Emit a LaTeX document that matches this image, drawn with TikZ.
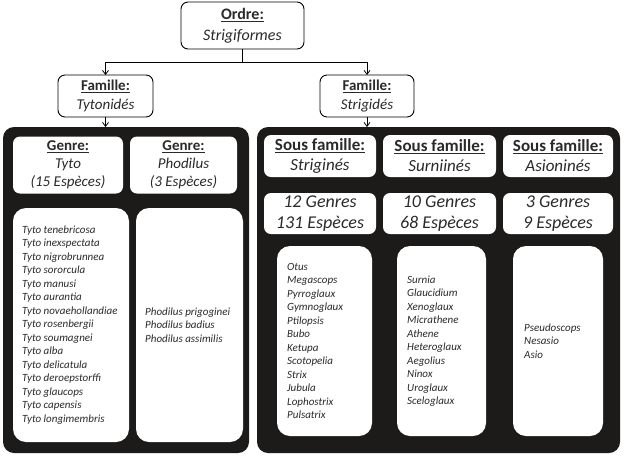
\documentclass[tikz,border=0pt]{standalone}
\usepackage{fontspec}
\setmainfont{Carlito}
\usepackage{tikz}
\usetikzlibrary{positioning, arrows.meta}
\definecolor{panelgray}{HTML}{1C1B19}
\definecolor{inkgray}{HTML}{2A2A2A}

\begin{document}
\begin{tikzpicture}[x=1pt, y=-1pt, text=inkgray,
  box/.style = {draw=black, line width=0.9pt, rounded corners=7pt,
    fill=white, align=center, inner sep=0pt, outer sep=0pt},
  panel/.style = {fill=panelgray, rounded corners=11pt,
    inner sep=0pt, outer sep=0pt},
  card/.style = {fill=white, rounded corners=7pt, align=center,
    inner sep=0pt, outer sep=0pt},
  listbox/.style = {fill=white, rounded corners=13pt,
    inner sep=0pt, outer sep=0pt},
  names/.style = {align=left, inner sep=0pt,
    font=\fontsize{11}{13.5}\selectfont\itshape},
  arr/.style = {-{Straight Barb[length=4pt, width=6pt]}, line width=0.8pt}]

  \useasboundingbox (0,0) rectangle (624,456);

  % top of the tree
  \node[box, minimum width=123pt, minimum height=47pt,
    font=\fontsize{16}{21}\selectfont] (ordre) at (242.5,25.5)
    {\underline{\textbf{Ordre:}}\\ \textit{Strigiformes}};
  \node[box, minimum width=95pt, minimum height=42pt,
    font=\fontsize{15}{19}\selectfont] (tyto) at (105.5,96)
    {\underline{\textbf{Famille:}}\\ \textit{Tytonidés}};
  \node[box, minimum width=94pt, minimum height=42pt,
    font=\fontsize{15}{19}\selectfont] (strig) at (367,96)
    {\underline{\textbf{Famille:}}\\ \textit{Strigidés}};

  % dark panels
  \node[panel, minimum width=246pt, minimum height=326pt] (tytoPanel) at (126,290) {};
  \node[panel, minimum width=363pt, minimum height=326pt] (strigPanel) at (438.5,290) {};

  \coordinate (split) at (242.5,62);
  \draw[line width=0.8pt] (ordre.south) -- (split);
  \draw[arr] (split) -| (tyto.north);
  \draw[arr] (split) -| (strig.north);
  \draw[arr] (tyto.south) -- (tyto.south |- tytoPanel.north);
  \draw[arr] (strig.south) -- (strig.south |- strigPanel.north);

  % Tytonidés
  \node[card, minimum width=110pt, minimum height=57pt,
    font=\fontsize{15}{18}\selectfont] (genreTyto) at (68,165)
    {\underline{\textbf{Genre:}}\\ \textit{Tyto}\\ \textit{(15 Espèces)}};
  \node[card, minimum width=107pt, minimum height=57pt,
    font=\fontsize{15}{18}\selectfont] (genrePhod) at (183.5,165)
    {\underline{\textbf{Genre:}}\\ \textit{Phodilus}\\ \textit{(3 Espèces)}};

  \node[listbox, minimum width=116pt, minimum height=234pt] (tytoList) at (71,325) {};
  \node[names, right=9pt of tytoList.west] (tytoNames)
    {Tyto tenebricosa\\ Tyto inexspectata\\ Tyto nigrobrunnea\\ Tyto sororcula\\
     Tyto manusi\\ Tyto aurantia\\ Tyto novaehollandiae\\ Tyto rosenbergii\\
     Tyto soumagnei\\ Tyto alba\\ Tyto delicatula\\ Tyto deroepstorffi\\
     Tyto glaucops\\ Tyto capensis\\ Tyto longimembris};
  \node[listbox, minimum width=107pt, minimum height=234pt] (phodList) at (189.5,325) {};
  \node[names, right=9pt of phodList.west] (phodNames)
    {Phodilus prigoginei\\ Phodilus badius\\ Phodilus assimilis};

  % Strigidés
  \node[card, minimum width=112pt, minimum height=42pt,
    font=\fontsize{17}{20}\selectfont] (sfStrig) at (320,156)
    {\underline{\textbf{Sous famille:}}\\ \textit{Striginés}};
  \node[card, minimum width=113pt, minimum height=42pt,
    font=\fontsize{17}{20}\selectfont] (sfSurn) at (439.5,156)
    {\underline{\textbf{Sous famille:}}\\ \textit{Surniinés}};
  \node[card, minimum width=110pt, minimum height=42pt,
    font=\fontsize{17}{20}\selectfont] (sfAsio) at (558,156)
    {\underline{\textbf{Sous famille:}}\\ \textit{Asioninés}};

  \node[card, minimum width=112pt, minimum height=41pt,
    font=\fontsize{18}{21.5}\selectfont\itshape] (cntStrig) at (320,213.5)
    {12 Genres\\ 131 Espèces};
  \node[card, minimum width=113pt, minimum height=41pt,
    font=\fontsize{18}{21.5}\selectfont\itshape] (cntSurn) at (439.5,213.5)
    {10 Genres\\ 68 Espèces};
  \node[card, minimum width=110pt, minimum height=41pt,
    font=\fontsize{18}{21.5}\selectfont\itshape] (cntAsio) at (558,213.5)
    {3 Genres\\ 9 Espèces};

  \node[listbox, minimum width=95pt, minimum height=190pt] (strigList) at (324.5,341) {};
  \node[names, right=10pt of strigList.west] (strigNames)
    {Otus\\ Megascops\\ Pyrroglaux\\ Gymnoglaux\\ Ptilopsis\\ Bubo\\ Ketupa\\
     Scotopelia\\ Strix\\ Jubula\\ Lophostrix\\ Pulsatrix};
  \node[listbox, minimum width=89pt, minimum height=190pt] (surnList) at (441.5,341) {};
  \node[names, right=10pt of surnList.west] (surnNames)
    {Surnia\\ Glaucidium\\ Xenoglaux\\ Micrathene\\ Athene\\ Heteroglaux\\
     Aegolius\\ Ninox\\ Uroglaux\\ Sceloglaux};
  \node[listbox, minimum width=90pt, minimum height=190pt] (asioList) at (558,341) {};
  \node[names, right=11pt of asioList.west] (asioNames)
    {Pseudoscops\\ Nesasio\\ Asio};
\end{tikzpicture}
\end{document}
